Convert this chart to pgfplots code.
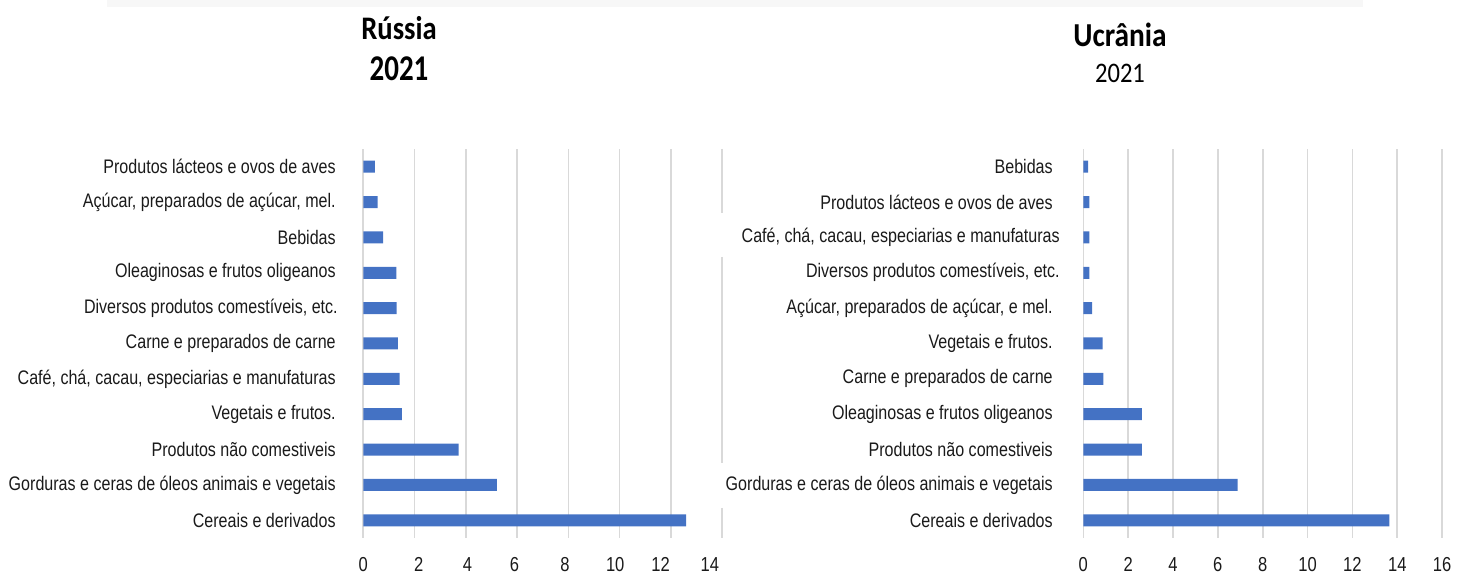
\documentclass[border=0pt]{standalone}
\usepackage{fontspec}
\setmainfont{Liberation Sans}[FakeStretch=0.82]
\newfontfamily\titlefont{Carlito}
\usepackage{pgfplots}
\pgfplotsset{compat=1.18}
\definecolor{barblue}{HTML}{4472C4}
\definecolor{gridgray}{HTML}{D9D9D9}
\definecolor{bandgray}{HTML}{F7F7F7}
\definecolor{labeltext}{HTML}{1A1A1A}

\pgfplotsset{
  exportbar/.style={
    scale only axis, width=179.4pt, height=194.5pt, anchor=south west,
    xbar, bar width=6pt, ymin=-0.5, ymax=10.5, xmin=0,
    ytick={0,...,10}, axis line style={draw=none}, major tick length=0pt,
    xmajorgrids, major grid style={gridgray, line width=0.8pt},
    ticklabel style={text=labeltext},
    /pgf/number format/assume math mode=true,
    xticklabel style={font=\fontsize{10.1pt}{12pt}\selectfont,
      anchor=north, inner sep=0pt, yshift=-9.6pt},
    yticklabel style={font=\fontsize{9.8pt}{11pt}\selectfont,
      anchor=east, inner sep=0pt},
    clip=false,
  },
  exportbars/.style={fill=barblue, draw=none},
}

\begin{document}
\begin{tikzpicture}
\useasboundingbox (0,0) rectangle (729pt,288pt);
\fill[bandgray] (53.5pt,284.5pt) rectangle (681.5pt,288pt);

% Titles
\node[anchor=base, inner sep=0pt] at (199.5pt,268pt)
  {\titlefont\bfseries\fontsize{14.3pt}{16pt}\selectfont\scalebox{1}[1.15]{Rússia}};
\node[anchor=base, inner sep=0pt] at (199.5pt,247.5pt)
  {\titlefont\bfseries\fontsize{14.5pt}{16pt}\selectfont\scalebox{1}[1.25]{2021}};
\node[anchor=base, inner sep=0pt] at (560pt,264.5pt)
  {\titlefont\bfseries\fontsize{14.7pt}{16pt}\selectfont\scalebox{1}[1.14]{Ucrânia}};
\node[anchor=base, inner sep=0pt] at (560pt,246.5pt)
  {\titlefont\fontsize{12.3pt}{14pt}\selectfont\scalebox{1}[1.15]{2021}};

% Rússia
\begin{axis}[exportbar, at={(181.65pt,19pt)}, xmax=14,
  xtick={0,2,...,12}, xticklabels={},
  extra x ticks={0,2.16,4.07,5.90,7.87,9.83,11.60,13.52},
  extra x tick labels={0,2,4,6,8,10,12,14},
  extra x tick style={grid=none},
  yticklabel style={xshift=-13.6pt},
  yticklabels={
    {Cereais e derivados},
    {Gorduras e ceras de óleos animais e vegetais},
    {Produtos não comestiveis},
    {Vegetais e frutos.},
    {Café, chá, cacau, especiarias e manufaturas},
    {Carne e preparados de carne},
    {Diversos produtos comestíveis, etc.\kern-1pt},
    {Oleaginosas e frutos oligeanos},
    {Bebidas},
    {Açúcar, preparados de açúcar, mel.},
    {Produtos lácteos e ovos de aves}},
]
\addplot[exportbars] coordinates {
  (12.60,0) (5.21,1) (3.72,2) (1.51,3) (1.42,4) (1.35,5)
  (1.30,6) (1.29,7) (0.77,8) (0.56,9) (0.45,10)};
% last grid line, partly hidden behind the neighbouring labels
\draw[gridgray, line width=0.8pt] (axis cs:14,10.5) -- (axis cs:14,8.69);
\draw[gridgray, line width=0.8pt] (axis cs:14,7.45) -- (axis cs:14,1.62);
\draw[gridgray, line width=0.8pt] (axis cs:14,0.35) -- (axis cs:14,-0.5);
\end{axis}

% Ucrânia
\begin{axis}[exportbar, at={(541.65pt,19pt)}, xmax=16,
  xtick={0,2,...,16},
  yticklabel style={xshift=-15.1pt},
  yticklabels={
    {Cereais e derivados},
    {Gorduras e ceras de óleos animais e vegetais},
    {Produtos não comestiveis},
    {Oleaginosas e frutos oligeanos},
    {Carne e preparados de carne},
    {Vegetais e frutos.},
    {Açúcar, preparados de açúcar, e mel.},
    {Diversos produtos comestíveis, etc.\kern-3.5pt},
    {Café, chá, cacau, especiarias e manufaturas\kern-3.5pt},
    {Produtos lácteos e ovos de aves},
    {Bebidas}},
]
\addplot[exportbars] coordinates {
  (13.65,0) (6.88,1) (2.61,2) (2.61,3) (0.89,4) (0.86,5)
  (0.39,6) (0.27,7) (0.27,8) (0.27,9) (0.22,10)};
\end{axis}
\end{tikzpicture}
\end{document}
